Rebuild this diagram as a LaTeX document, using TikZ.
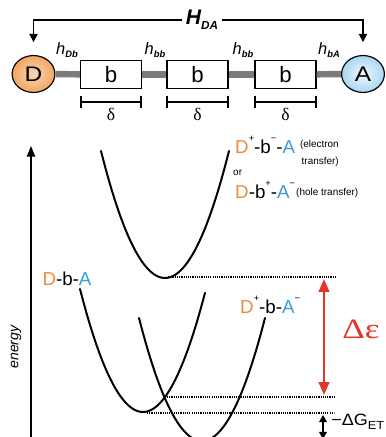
\documentclass[tikz,border=0pt]{standalone}
\usepackage{fontspec}
\setmainfont{Liberation Sans}
\newfontfamily\greekfont{Liberation Serif}
\usetikzlibrary{arrows.meta}

\definecolor{donor}{HTML}{EE8B3A}
\definecolor{acceptor}{HTML}{3A9BD8}
\definecolor{donorfill}{HTML}{F2A55F}
\definecolor{acceptorfill}{HTML}{A8D6F2}
\definecolor{gapred}{HTML}{E5352B}
\definecolor{bargray}{HTML}{7B7B7B}

\newcommand{\fsz}[1]{\fontsize{#1}{#1}\selectfont}
\newcommand{\Dn}{\textcolor{donor}{D}}
\newcommand{\An}{\textcolor{acceptor}{A}}
\newcommand{\chg}[1]{\raisebox{1.15ex}{\fsz{8}#1}}
\newcommand{\hsub}[2]{\fsz{14}\itshape #1\raisebox{-0.4ex}{\fsz{8}\bfseries #2}}

\begin{document}
\begin{tikzpicture}[x=0.03cm, y=-0.03cm,
  site/.style={circle, draw, line width=1pt, minimum size=31.5pt, inner sep=0pt, xscale=1.16, font=\fsz{18}},
  bridge/.style={draw, line width=1pt, fill=white, minimum width=52pt, minimum height=24.5pt, inner sep=0pt, font=\fsz{19}},
  bar/.style={draw=bargray, line width=5.5pt},
  coupling/.style={line width=1.3pt, -{Triangle[width=7pt,length=7pt]}},
  span/.style={line width=1.5pt, {Bar[width=10pt]}-{Bar[width=10pt]}},
  curve/.style={line width=1.7pt, line cap=round},
  level/.style={line width=1.6pt, dash pattern=on 1pt off 0.9pt},
  spec/.style={inner sep=0pt, font=\fsz{16}},
  note/.style={inner sep=0pt, align=right, font={\fontsize{8.5}{14.5}\selectfont}},
]
\useasboundingbox (0,0) rectangle (386,437);
\clip (0,0) rectangle (386,437);

% donor - bridge - acceptor
\node[site, shade, inner color=white!55!donorfill, outer color=donorfill] (D) at (33.5,74) {D};
\node[bridge] (b1) at (111,74.5) {b};
\node[bridge] (b2) at (197.5,74.5) {b};
\node[bridge] (b3) at (285.5,74.5) {b};
\node[site, shade, inner color=white!85!acceptorfill, outer color=acceptorfill] (A) at (363,74) {A};
\foreach \u/\v in {D/b1,b1/b2,b2/b3,b3/A}
  \draw[bar] (\u) -- (\v);

\node[font=\fsz{18}\bfseries\itshape] (HDA) at (202,20) {H\raisebox{-0.45ex}{\fsz{10}DA}};
\draw[coupling, shorten >=11pt] (HDA.west) -| (D);
\draw[coupling, shorten >=11pt] (HDA.east) -| (A);

\node (hDb) at (67,50) {\hsub{h}{Db}};
\node (hbb1) at (155,50) {\hsub{h}{bb}};
\node (hbb2) at (243,50) {\hsub{h}{bb}};
\node (hbA) at (329,50) {\hsub{h}{bA}};

\foreach \k in {1,2,3}
  \draw[span] ([yshift=-11pt]b\k.south west) -- ([yshift=-11pt]b\k.south east)
    node[midway, below=1pt, font=\greekfont\fsz{15}] (d\k) {δ};

% energy diagram
\coordinate (e0) at (31,440);
\coordinate (e1) at (31,146);
\draw[line width=1.3pt, -{Triangle[width=7pt,length=9pt]}] (e0) -- (e1);
\node[rotate=90, font=\fsz{12}\itshape] (energy) at (16,347) {energy};

\draw[curve] plot[domain=-64:64, samples=60] ({165+\x},{278-0.031*\x*\x});
\draw[curve] plot[domain=-63:62, samples=60] ({143+\x},{412-0.031*\x*\x});
\draw[curve] plot[domain=-63:63, samples=60] ({202+\x},{441-0.031*\x*\x});

\coordinate (lv1a) at (168,277);
\coordinate (lv1b) at (336,277);
\coordinate (lv2a) at (167,397);
\coordinate (lv2b) at (334,397);
\coordinate (lv3a) at (147,413);
\coordinate (lv3b) at (334,413);
\draw[level] (lv1a) -- (lv1b);
\draw[level] (lv2a) -- (lv2b);
\draw[level] (lv3a) -- (lv3b);

\coordinate (gtop) at (324,279);
\coordinate (gbot) at (324,395);
\draw[gapred, line width=1.8pt, {Triangle[width=9pt,length=11pt]}-{Triangle[width=9pt,length=11pt]}] (gtop) -- (gbot);
\node[text=gapred, font=\greekfont\fsz{24}, xscale=1.25] (deps) at (361,329) {Δε};

\coordinate (dgtop) at (323,415);
\coordinate (dgbot) at (323,439);
\draw[line width=1.3pt, {Triangle[width=6.5pt,length=6pt]}-{Triangle[width=6.5pt,length=6pt]}] (dgtop) -- (dgbot);
\node[anchor=west, inner sep=0pt, font=\fsz{14}, xscale=1.1] (dG) at (331,422) {−ΔG\raisebox{-0.5ex}{\fsz{10}ET}};

% state labels
\node[spec, anchor=west] (et) at (235,145) {\Dn\chg{+}-b\chg{−}-\An};
\node[note, anchor=east] (etnote) at (339,153) {(electron\\transfer)};
\node[note, anchor=west] (or) at (233,173) {or};
\node[spec, anchor=west] (ht) at (235,190) {\Dn-b\chg{+}-\An\chg{−}};
\node[note, anchor=west] (htnote) at (296,193) {(hole transfer)};
\node[spec] (dba) at (67,279) {\Dn-b-\An};
\node[spec, anchor=west] (dpba) at (240,305) {\Dn\chg{+}-b-\An\chg{−}};
\end{tikzpicture}
\end{document}
